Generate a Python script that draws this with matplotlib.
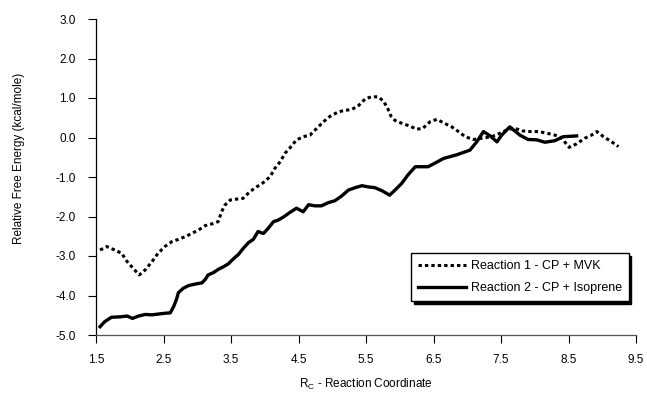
import matplotlib
matplotlib.use("Agg")
import matplotlib.pyplot as plt

plt.rcParams["font.family"] = ["Liberation Sans", "DejaVu Sans"]

# Reaction 1 - CP + MVK (dashed)
r1_x = [1.56, 1.66, 1.78, 1.88, 1.96, 2.05, 2.14, 2.23, 2.33, 2.42, 2.52, 2.62,
        2.72, 2.82, 2.92, 3.02, 3.12, 3.21, 3.31, 3.36, 3.41, 3.49, 3.58, 3.68,
        3.78, 3.88, 3.98, 4.08, 4.15, 4.23, 4.30, 4.37, 4.47, 4.57, 4.67, 4.77,
        4.87, 4.97, 5.07, 5.16, 5.29, 5.39, 5.49, 5.58, 5.68, 5.76, 5.82, 5.87,
        5.93, 6.03, 6.15, 6.25, 6.34, 6.45, 6.55, 6.65, 6.77, 6.87, 6.97, 7.09,
        7.21, 7.36, 7.49, 7.61, 7.71, 7.81, 7.93, 8.05, 8.18, 8.30, 8.40, 8.51,
        8.62, 8.74, 8.84, 8.92, 9.02, 9.14, 9.24]
r1_y = [-2.85, -2.76, -2.85, -2.93, -3.14, -3.31, -3.48, -3.35, -3.14, -2.93,
        -2.76, -2.64, -2.58, -2.51, -2.43, -2.34, -2.23, -2.19, -2.13, -1.88,
        -1.71, -1.58, -1.56, -1.54, -1.37, -1.25, -1.14, -0.99, -0.78, -0.61,
        -0.40, -0.27, -0.06, 0.02, 0.06, 0.23, 0.40, 0.54, 0.63, 0.68, 0.71,
        0.81, 0.98, 1.03, 1.03, 0.92, 0.74, 0.54, 0.43, 0.36, 0.29, 0.21, 0.23,
        0.40, 0.46, 0.37, 0.27, 0.15, 0.02, -0.05, -0.02, 0.02, 0.11, 0.21,
        0.23, 0.17, 0.15, 0.15, 0.11, 0.06, -0.02, -0.25, -0.16, -0.02, 0.06,
        0.15, 0.02, -0.11, -0.23]

# Reaction 2 - CP + Isoprene (solid)
r2_x = [1.56, 1.63, 1.73, 1.86, 1.96, 2.04, 2.13, 2.23, 2.33, 2.42, 2.52, 2.60,
        2.65, 2.69, 2.72, 2.79, 2.87, 2.97, 3.07, 3.12, 3.16, 3.24, 3.31, 3.39,
        3.46, 3.53, 3.61, 3.68, 3.76, 3.83, 3.90, 3.98, 4.05, 4.13, 4.20, 4.28,
        4.37, 4.47, 4.57, 4.65, 4.74, 4.84, 4.94, 5.04, 5.14, 5.24, 5.34, 5.44,
        5.53, 5.63, 5.74, 5.85, 5.93, 6.03, 6.12, 6.23, 6.42, 6.52, 6.65, 6.84,
        7.04, 7.14, 7.24, 7.34, 7.44, 7.51, 7.63, 7.78, 7.90, 8.03, 8.15, 8.30,
        8.42, 8.62]
r2_y = [-4.79, -4.66, -4.55, -4.54, -4.52, -4.58, -4.52, -4.48, -4.49, -4.47,
        -4.45, -4.44, -4.28, -4.11, -3.93, -3.82, -3.75, -3.71, -3.68, -3.59,
        -3.48, -3.42, -3.34, -3.27, -3.20, -3.08, -2.96, -2.81, -2.66, -2.58,
        -2.38, -2.43, -2.30, -2.13, -2.09, -2.01, -1.90, -1.79, -1.88, -1.70,
        -1.73, -1.73, -1.65, -1.60, -1.48, -1.33, -1.27, -1.22, -1.25, -1.27,
        -1.35, -1.46, -1.33, -1.16, -0.95, -0.74, -0.74, -0.65, -0.53, -0.44,
        -0.32, -0.11, 0.15, 0.04, -0.11, 0.06, 0.27, 0.06, -0.05, -0.06, -0.12,
        -0.08, 0.02, 0.04]

X_TICKS = [1.5, 2.5, 3.5, 4.5, 5.5, 6.5, 7.5, 8.5, 9.5]
Y_TICKS = [-5.0, -4.0, -3.0, -2.0, -1.0, 0.0, 1.0, 2.0, 3.0]


def main():
    fig = plt.figure(figsize=(6.47, 4.0), dpi=100)
    ax = fig.add_axes([0.1484, 0.1625, 0.8346, 0.79])

    ax.plot(r1_x, r1_y, color="black", linewidth=2.2, dashes=(1.1, 1.0),
            label="Reaction 1 - CP + MVK")
    ax.plot(r2_x, r2_y, color="black", linewidth=2.4,
            label="Reaction 2 - CP + Isoprene")

    ax.set_xlim(1.5, 9.5)
    ax.set_ylim(-5.0, 3.0)
    ax.set_xticks(X_TICKS)
    ax.set_xticklabels([f"{v:.1f}" for v in X_TICKS])
    ax.set_yticks(Y_TICKS)
    ax.set_yticklabels([f"{v:.1f}" for v in Y_TICKS])
    ax.tick_params(axis="both", labelsize=8.5, length=5.5, width=0.8,
                   direction="out", colors="black")
    ax.tick_params(axis="y", pad=9)
    ax.tick_params(axis="x", pad=8)

    for side in ["top", "right"]:
        ax.spines[side].set_visible(False)
    ax.spines["left"].set_linewidth(0.9)
    ax.spines["bottom"].set_linewidth(0.9)
    ax.spines["bottom"].set_color("#555555")

    ax.set_xlabel(r"R$_{\mathregular{C}}$ - Reaction Coordinate", fontsize=8.5,
                  labelpad=8)
    fig.text(0.029, 0.605, "Relative Free Energy (kcal/mole)", rotation=90,
             ha="center", va="center", fontsize=8.5)

    ax.legend(loc="upper left", bbox_to_anchor=(0.626, 0.3825),
              bbox_transform=fig.transFigure, fontsize=9, frameon=True,
              fancybox=False, edgecolor="black", handlelength=3.8,
              labelspacing=0.8, borderpad=0.55, handletextpad=0.4,
              shadow={"color": "black", "alpha": 1.0}, framealpha=1.0)
    ax.get_legend().get_frame().set_linewidth(1.0)

    fig.savefig("out.png", dpi=100, facecolor="white")
    plt.close(fig)


if __name__ == "__main__":
    main()
